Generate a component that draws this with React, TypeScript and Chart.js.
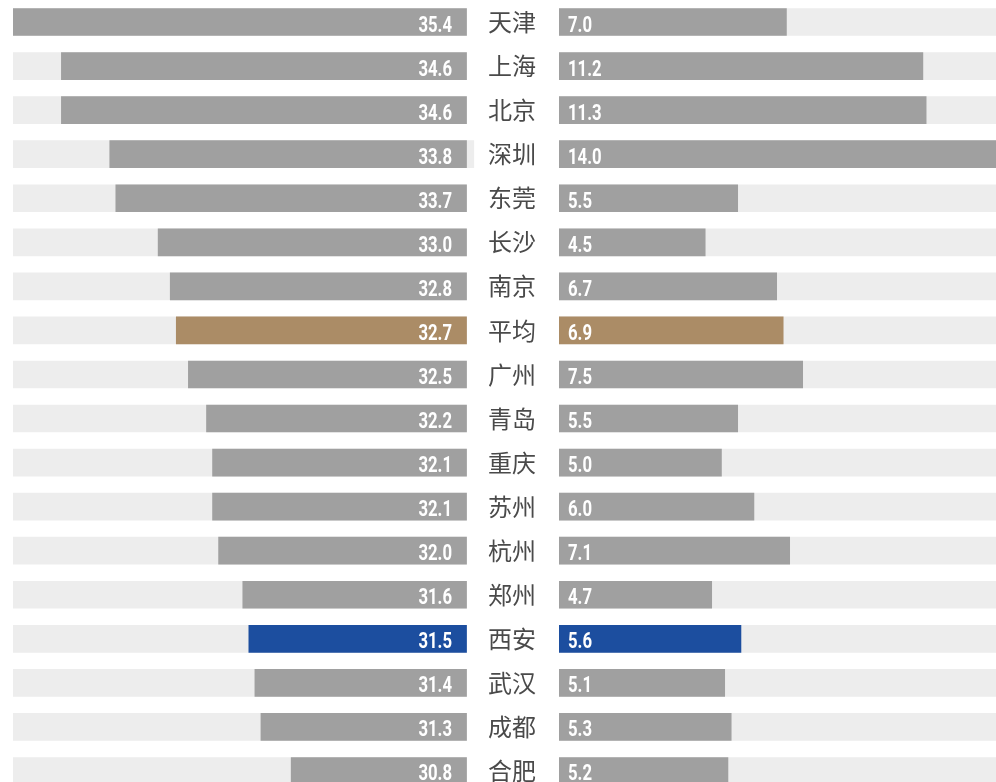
import React, { useEffect, useRef } from "react";
import { Chart, registerables } from "chart.js";

Chart.register(...registerables);

const cities = ["天津", "上海", "北京", "深圳", "东莞", "长沙", "南京", "平均", "广州", "青岛", "重庆", "苏州", "杭州", "郑州", "西安", "武汉", "成都", "合肥"];
const leftValues = [35.4, 34.6, 34.6, 33.8, 33.7, 33.0, 32.8, 32.7, 32.5, 32.2, 32.1, 32.1, 32.0, 31.6, 31.5, 31.4, 31.3, 30.8];
const rightValues = [7.0, 11.2, 11.3, 14.0, 5.5, 4.5, 6.7, 6.9, 7.5, 5.5, 5.0, 6.0, 7.1, 4.7, 5.6, 5.1, 5.3, 5.2];

const LEFT_BASE = 27.9;
const LEFT_MIN = 27.76;
const LEFT_MAX = 35.4;
const RIGHT_MAX = 13.45;

const GRAY = "#a0a0a0";
const BG = "#ededed";
const GOLD = "#ab8c66";
const BLUE = "#1c4e9f";

const barColor = (c: string) => (c === "平均" ? GOLD : c === "西安" ? BLUE : GRAY);
const colors = cities.map(barColor);

const VALUE_FONT = "bold 22px Roboto, 'Liberation Sans', sans-serif";
const SQUEEZE = 0.76;

function valueLabels(side: "left" | "right") {
  return {
    id: "valueLabels-" + side,
    afterDatasetsDraw(chart: any) {
      const ctx = chart.ctx;
      const meta = chart.getDatasetMeta(0);
      const vals = side === "left" ? leftValues : rightValues;
      ctx.save();
      ctx.font = VALUE_FONT;
      ctx.fillStyle = "#ffffff";
      ctx.textBaseline = "alphabetic";
      meta.data.forEach((el: any, i: number) => {
        const txt = vals[i].toFixed(1);
        const x = side === "left" ? el.base - 14.5 : el.base + 9;
        ctx.save();
        ctx.translate(x, el.y + 9.5);
        ctx.scale(SQUEEZE, 1);
        ctx.textAlign = side === "left" ? "right" : "left";
        ctx.fillText(txt, 0, 0);
        ctx.restore();
      });
      ctx.restore();
    },
  };
}

export default function App() {
  const leftRef = useRef<HTMLCanvasElement | null>(null);
  const rightRef = useRef<HTMLCanvasElement | null>(null);

  useEffect(() => {
    const leftBg = cities.map((c) => [c === "深圳" ? 27.78 : LEFT_BASE, LEFT_MAX]);
    const left = new Chart(leftRef.current as HTMLCanvasElement, {
      type: "bar",
      data: {
        labels: cities,
        datasets: [
          {
            data: leftValues.map((v) => [LEFT_BASE, v]) as any,
            backgroundColor: colors,
            barThickness: 27,
            grouped: false,
            borderWidth: 0,
          } as any,
          {
            data: leftBg as any,
            backgroundColor: BG,
            barThickness: 27,
            grouped: false,
            borderWidth: 0,
          } as any,
        ],
      },
      options: {
        indexAxis: "y",
        responsive: false,
        animation: false,
        devicePixelRatio: 1,
        layout: { padding: { left: 13, top: 0, right: 0, bottom: 0 } },
        plugins: { legend: { display: false }, tooltip: { enabled: false } },
        scales: {
          x: { display: false, reverse: true, min: LEFT_MIN, max: LEFT_MAX },
          y: {
            position: "right",
            grid: { display: false, drawTicks: false },
            border: { display: false },
            ticks: {
              autoSkip: false,
              padding: 13,
              crossAlign: "near",
              color: "#4a4a4a",
              font: { family: "'Noto Sans CJK SC', sans-serif", size: 24 },
            },
            afterFit: (scale: any) => {
              scale.width = 84;
              scale.paddingTop = 0;
              scale.paddingBottom = 0;
            },
          } as any,
        },
      },
      plugins: [valueLabels("left")],
    });

    const right = new Chart(rightRef.current as HTMLCanvasElement, {
      type: "bar",
      data: {
        labels: cities,
        datasets: [
          {
            data: rightValues,
            backgroundColor: colors,
            barThickness: 27,
            grouped: false,
            borderWidth: 0,
          } as any,
          {
            data: cities.map(() => RIGHT_MAX),
            backgroundColor: BG,
            barThickness: 27,
            grouped: false,
            borderWidth: 0,
          } as any,
        ],
      },
      options: {
        indexAxis: "y",
        responsive: false,
        animation: false,
        devicePixelRatio: 1,
        layout: { padding: 0 },
        plugins: { legend: { display: false }, tooltip: { enabled: false } },
        scales: {
          x: { display: false, min: 0, max: RIGHT_MAX },
          y: { display: false },
        },
      },
      plugins: [valueLabels("right")],
    });

    return () => {
      left.destroy();
      right.destroy();
    };
  }, []);

  return (
    <div
      style={{
        position: "fixed",
        left: 0,
        top: 0,
        width: 996,
        height: 782,
        overflow: "hidden",
        background: "#ffffff",
      }}
    >
      <canvas
        ref={leftRef}
        width={559}
        height={793}
        style={{ position: "absolute", left: 0, top: 0, width: 559, height: 793 }}
      />
      <canvas
        ref={rightRef}
        width={437}
        height={793}
        style={{ position: "absolute", left: 559, top: 0, width: 437, height: 793 }}
      />
    </div>
  );
}
